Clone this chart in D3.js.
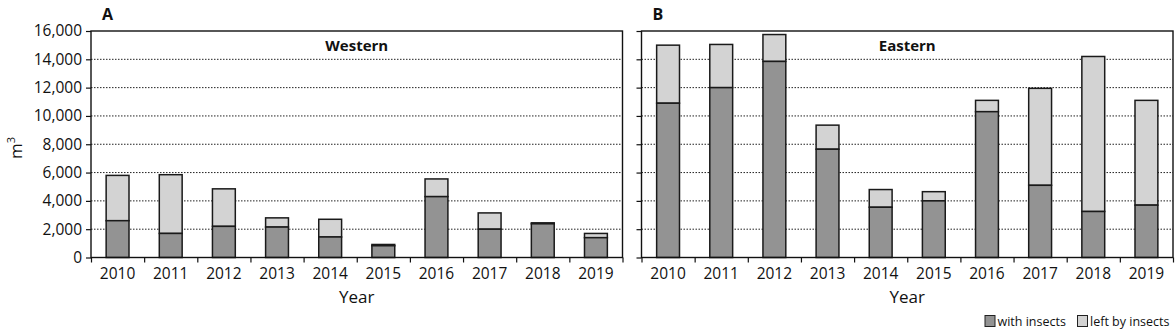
<!DOCTYPE html>
<html>
<head>
<meta charset="utf-8">
<script src="https://cdn.jsdelivr.net/npm/d3@7"></script>
<style>
  html, body { margin: 0; padding: 0; background: #fff; }
  svg { display: block; font-family: "Open Sans", "Noto Sans", sans-serif; }
</style>
</head>
<body>
<svg id="chart" width="1175" height="332"></svg>
<script>
const years = ["2010","2011","2012","2013","2014","2015","2016","2017","2018","2019"];
const westernWith = [2600, 1700, 2200, 2150, 1450, 830, 4300, 2000, 2380, 1400];
const westernLeft = [3200, 4150, 2650, 650, 1250, 90, 1250, 1150, 70, 300];
const easternWith = [10900, 12000, 13850, 7650, 3550, 4000, 10300, 5100, 3250, 3700];
const easternLeft = [4100, 3050, 1900, 1700, 1250, 650, 800, 6850, 10950, 7400];
const yTicks = [0, 2000, 4000, 6000, 8000, 10000, 12000, 14000, 16000];
const seriesNames = ["with insects", "left by insects"];

const colors = { with: "#939393", left: "#d3d3d3" };
const svg = d3.select("#chart");
const plotTop = 31, plotBottom = 257.5;
const y = d3.scaleLinear().domain([0, 16000]).range([plotBottom, plotTop]);
const fmt = d3.format(",");

function panel(x0, x1, withVals, leftVals, letter, title, showLabels) {
  const g = svg.append("g");
  const x = d3.scaleBand().domain(years).range([x0, x1]).paddingInner(0.57).paddingOuter(0.285);
  const xb = d3.scaleLinear().domain([0, years.length]).range([x0, x1]);

  // gridlines
  g.append("g").selectAll("line").data(yTicks.filter(t => t > 0 && t < 16000)).join("line")
    .attr("x1", x0).attr("x2", x1).attr("y1", d => y(d)).attr("y2", d => y(d))
    .attr("stroke", "#222").attr("stroke-width", 1).attr("stroke-dasharray", "1.5,1.5");

  // y axis
  const ya = d3.axisLeft(y).tickValues(yTicks).tickSize(5).tickPadding(4)
    .tickFormat(showLabels ? fmt : () => "");
  const yg = g.append("g").attr("transform", `translate(${x0},0)`).call(ya);
  yg.select(".domain").remove();
  yg.selectAll(".tick line").attr("stroke", "#111").attr("stroke-width", 1.2);
  yg.selectAll(".tick text").attr("font-size", 15.5).attr("fill", "#111")
    .attr("font-family", "'Open Sans', sans-serif");

  // x axis boundary ticks
  const xa = d3.axisBottom(xb).tickValues(d3.range(0, years.length + 1)).tickSize(5).tickFormat(() => "");
  const xg = g.append("g").attr("transform", `translate(0,${plotBottom})`).call(xa);
  xg.select(".domain").remove();
  xg.selectAll(".tick line").attr("stroke", "#111").attr("stroke-width", 1.2);

  // year labels
  g.append("g").selectAll("text").data(years).join("text")
    .attr("x", d => x(d) + x.bandwidth() / 2).attr("y", 278.5)
    .attr("text-anchor", "middle").attr("font-size", 15.5).attr("fill", "#111").text(d => d);

  // bars
  const data = years.map((yr, i) => ({ yr, w: withVals[i], l: leftVals[i] }));
  const bars = g.append("g");
  bars.selectAll("rect.l").data(data).join("rect").attr("class", "l")
    .attr("x", d => x(d.yr)).attr("width", x.bandwidth())
    .attr("y", d => y(d.w + d.l)).attr("height", d => y(d.w) - y(d.w + d.l))
    .attr("fill", colors.left).attr("stroke", "#1a1a1a").attr("stroke-width", 1.5);
  bars.selectAll("rect.w").data(data).join("rect").attr("class", "w")
    .attr("x", d => x(d.yr)).attr("width", x.bandwidth())
    .attr("y", d => y(d.w)).attr("height", d => y(0) - y(d.w))
    .attr("fill", colors.with).attr("stroke", "#1a1a1a").attr("stroke-width", 1.5);

  // frame
  g.append("rect").attr("x", x0).attr("y", plotTop).attr("width", x1 - x0).attr("height", plotBottom - plotTop)
    .attr("fill", "none").attr("stroke", "#111").attr("stroke-width", 1.4);

  // titles
  g.append("text").attr("x", (x0 + x1) / 2).attr("y", 51).attr("text-anchor", "middle")
    .attr("font-size", 15).attr("font-weight", "bold").attr("fill", "#111").text(title);
  g.append("text").attr("x", x0 + 11).attr("y", 19.5)
    .attr("font-size", 16).attr("font-weight", "bold").attr("fill", "#111").text(letter);
  g.append("text").attr("x", (x0 + x1) / 2).attr("y", 303).attr("text-anchor", "middle")
    .attr("font-size", 17).attr("fill", "#111").text("Year");
}

panel(91, 622.5, westernWith, westernLeft, "A", "Western", true);
panel(641.5, 1173, easternWith, easternLeft, "B", "Eastern", false);

// y axis title
const yt = svg.append("text").attr("transform", "translate(22,148) rotate(-90)")
  .attr("text-anchor", "middle").attr("font-size", 17).attr("fill", "#111");
yt.append("tspan").text("m");
yt.append("tspan").attr("font-size", 11).attr("dy", -7).text("3");

// legend
const leg = svg.append("g");
const legX = [985, 1077.5];
seriesNames.forEach((name, i) => {
  leg.append("rect").attr("x", legX[i]).attr("y", 315.5).attr("width", 10).attr("height", 11)
    .attr("fill", i === 0 ? colors.with : colors.left).attr("stroke", "#222").attr("stroke-width", 1);
  leg.append("text").attr("x", legX[i] + 12.5).attr("y", 326).attr("font-size", 12.5)
    .attr("fill", "#111").text(name);
});
</script>
</body>
</html>
